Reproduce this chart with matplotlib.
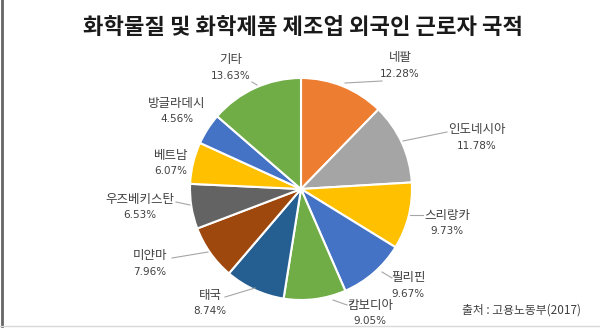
import matplotlib
matplotlib.use('Agg')
import matplotlib.pyplot as plt
from matplotlib.lines import Line2D

plt.rcParams['font.family'] = ['Noto Sans CJK KR', 'DejaVu Sans']

# data, clockwise from 12 o'clock
countries = ['네팔', '인도네시아', '스리랑카', '필리핀', '캄보디아', '태국',
             '미얀마', '우즈베키스탄', '베트남', '방글라데시', '기타']
shares = [12.28, 11.78, 9.73, 9.67, 9.05, 8.74, 7.96, 6.53, 6.07, 4.56, 13.63]
colors = ['#ED7D31', '#A5A5A5', '#FFC000', '#4472C4', '#70AD47', '#255E91',
          '#9E480E', '#636363', '#FFC000', '#4472C4', '#70AD47']

title = '화학물질 및 화학제품 제조업 외국인 근로자 국적'
source = '출처 : 고용노동부(2017)'

# label placement (pixel coords, y down) and leader lines
label_pos = [(400, 58), (477, 130), (447, 215), (408, 278), (370, 305), (210, 295),
             (150, 256), (140, 199), (171, 155), (177, 103), (231, 60)]
leaders = [((345, 83), (382, 81)), ((403, 141), (447, 132)), ((410, 215), (423, 215)),
           ((382, 272), (392, 278)), ((333, 300), (347, 305)), ((255, 288), (225, 297)),
           ((208, 252), (172, 258)), ((190, 205), (176, 202)), None, None,
           ((257, 85), (252, 82))]

W, H = 600, 330
fig = plt.figure(figsize=(6, 3.3), dpi=100)
ax = fig.add_axes([0, 0, 1, 1])

ax.pie(shares, colors=colors, startangle=90, counterclock=False,
       center=(301, H - 189), radius=111, frame=True,
       wedgeprops=dict(edgecolor='white', linewidth=1.5))
ax.set_xlim(0, W)
ax.set_ylim(0, H)
ax.set_aspect('equal')
ax.axis('off')

for name, val, (x, y), ld in zip(countries, shares, label_pos, leaders):
    ax.text(x, H - y, name, ha='center', va='center', fontsize=9, color='#404040')
    ax.text(x, H - y - 16, '%.2f%%' % val, ha='center', va='center',
            fontsize=7.5, color='#404040', family=['DejaVu Sans'])
    if ld:
        (x1, y1), (x2, y2) = ld
        ax.plot([x1, x2], [H - y1, H - y2], color='#A6A6A6', lw=0.8)

ax.text(303, H - 28, title, ha='center', va='center', fontsize=16,
        fontweight='bold', color='#1a1a1a')
ax.text(462, H - 310, source, ha='left', va='center', fontsize=8.5, color='#404040')

# frame edges
fig.add_artist(Line2D([2 / W, 2 / W], [4 / H, 1], color='#666666', lw=2))
fig.add_artist(Line2D([0, 1], [4 / H, 4 / H], color='#D9D9D9', lw=1))

fig.savefig('out.png', dpi=100)
